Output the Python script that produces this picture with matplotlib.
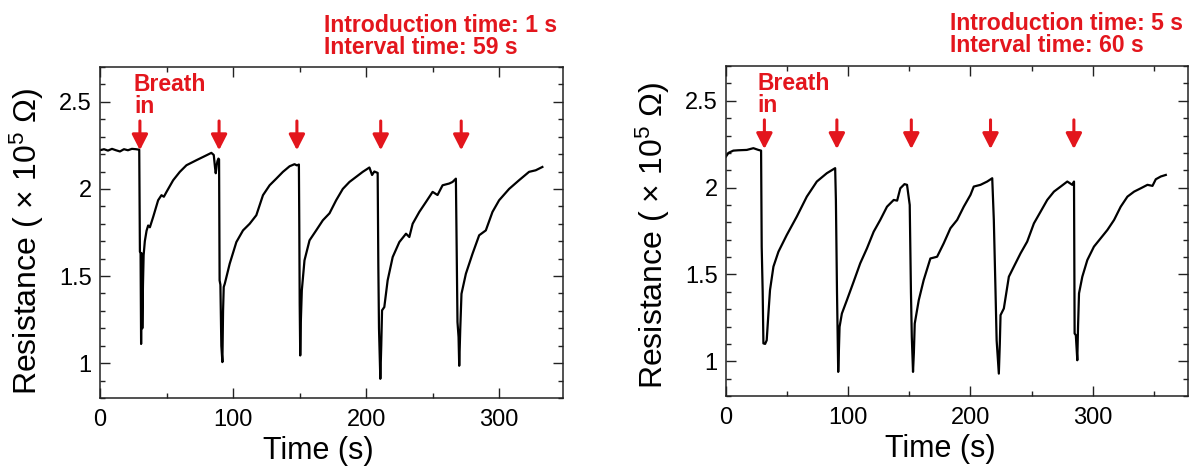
import matplotlib
matplotlib.use('Agg')
import matplotlib.pyplot as plt
from matplotlib.ticker import MultipleLocator, FuncFormatter

plt.rcParams['font.family'] = ['Liberation Sans', 'DejaVu Sans']
plt.rcParams['mathtext.default'] = 'regular'

# panel 1: introduction 1 s, interval 59 s
t1 = [0, 3, 6, 9, 12, 15, 18, 21, 24, 27, 29.5,
      30.0, 30.5, 30.9, 31.4, 31.8, 32.3, 32.8, 33.7, 35.0, 36.2, 37.5, 40,
      43.7, 46.2, 48, 50, 55, 60, 65, 72.5, 80, 83.7, 85.5, 86.5, 87, 87.8,
      88.3, 89, 89.5,
      89.9, 90.5, 91.2, 92, 92.5, 93, 93.8, 97.5, 102.5, 107.5, 112.5, 117.5,
      122.5, 127.5, 132.5, 137.5, 142.5, 146.2, 148, 149.5,
      149.8, 150.1, 150.5, 151.0, 151.7, 153.7, 157.5, 162.5, 167.5, 172.5,
      177.5, 182.5, 187.5, 192.5, 197.5, 202.5, 204.5, 206.2, 208.7,
      209.2, 209.7, 210.7, 211.4, 212, 213.7, 216.2, 220, 225, 230, 232.5,
      235, 240, 245, 250, 253.7, 257.5, 262.5, 265, 267.5,
      268.7, 269.5, 270, 270.8, 271.7, 275, 280, 285, 290, 295, 300, 307.5,
      315, 322.5, 327.5, 332.5]
r1 = [2.222, 2.228, 2.22, 2.23, 2.222, 2.215, 2.228, 2.222, 2.23, 2.228, 2.225,
      1.64, 1.63, 1.11, 1.63, 1.2, 1.45, 1.62, 1.70, 1.76, 1.79, 1.78, 1.84,
      1.935, 1.964, 1.955, 1.983, 2.05, 2.098, 2.136, 2.165, 2.193, 2.207, 2.195,
      2.12, 2.09, 2.14, 2.16, 2.174, 2.17,
      1.475, 1.45, 1.1, 1.006, 1.3, 1.437, 1.456, 1.571, 1.695, 1.762, 1.80,
      1.849, 1.964, 2.021, 2.059, 2.098, 2.13, 2.142, 2.135, 2.14,
      1.79, 1.34, 1.044, 1.25, 1.418, 1.59, 1.705, 1.762, 1.82, 1.86,
      1.935, 2.00, 2.04, 2.069, 2.098, 2.123, 2.08, 2.10, 2.092,
      1.561, 1.2, 0.91, 1.10, 1.303, 1.322, 1.475, 1.609, 1.695, 1.743, 1.724,
      1.80, 1.868, 1.925, 1.983, 1.965, 2.021, 2.031, 2.04, 2.059,
      1.236, 1.15, 0.985, 1.2, 1.398, 1.513, 1.628, 1.734, 1.762, 1.868, 1.935,
      2.00, 2.05, 2.098, 2.107, 2.126]

# panel 2: introduction 5 s, interval 60 s
t2 = [0, 2, 6, 10, 17, 22.4, 26.5, 28.7,
      29.2, 30.0, 30.6, 32.0, 33.3, 34.7, 36, 38.8, 42.9, 49.7, 57.9, 66.1,
      74.3, 82.5, 89.3,
      89.9, 90.8, 91.8, 92.3, 92.9, 94.8, 98.9, 104.4, 109.8, 115.3, 120.8,
      126.2, 131.7, 137.2, 140, 142.6, 146, 148.1,
      150.3, 151.3, 152.0, 153.0, 153.7, 154.4, 157.7, 161.7, 167.2, 172.7,
      178.1, 183.6, 189.1, 194.5, 200, 202.7, 208.2, 213.7, 217.8,
      219.1, 220.5, 221.4, 223.2, 224.0, 224.6, 227.3, 231.4, 235.5, 241,
      246.4, 251.9, 257.4, 262.8, 268.3, 273.8, 279.2, 283.3, 284.7,
      285.2, 286.2, 287.4, 288.0, 288.8, 291.5, 295.6, 301, 306.5, 312, 317.5,
      322.9, 328.4, 333.9, 339.3, 344.8, 348.9, 351.6, 355.7, 359.8]
r2 = [2.179, 2.20, 2.213, 2.215, 2.217, 2.227, 2.217, 2.213,
      1.66, 1.40, 1.103, 1.10, 1.121, 1.275, 1.41, 1.545, 1.631, 1.727, 1.833,
      1.948, 2.035, 2.083, 2.112,
      1.93, 1.40, 0.939, 1.05, 1.198, 1.275, 1.352, 1.458, 1.564, 1.65, 1.746,
      1.814, 1.89, 1.929, 1.925, 1.996, 2.02, 2.016,
      1.90, 1.40, 1.14, 0.939, 1.05, 1.217, 1.352, 1.467, 1.592, 1.602,
      1.679, 1.766, 1.814, 1.89, 1.958, 2.006, 2.016, 2.035, 2.054,
      1.814, 1.40, 1.121, 0.929, 1.10, 1.266, 1.304, 1.487, 1.545, 1.622,
      1.689, 1.794, 1.862, 1.929, 1.977, 2.006, 2.035, 2.016, 2.035,
      1.16, 1.15, 1.006, 1.20, 1.391, 1.487, 1.583, 1.66, 1.708, 1.756, 1.814,
      1.89, 1.948, 1.977, 1.996, 2.016, 2.01, 2.048, 2.064, 2.073]

arrows1 = [30, 89.5, 148, 211, 271.5]
arrows2 = [31.4, 90.7, 151.6, 216.4, 284.6]
notes1 = ['Introduction time: 1 s', 'Interval time: 59 s']
notes2 = ['Introduction time: 5 s', 'Interval time: 60 s']
xmax1 = 348
xmax2 = 378

red = '#e3161d'

fig = plt.figure(figsize=(11.89, 4.68), dpi=100)
ax1 = fig.add_axes([0.0841, 0.1496, 0.3894, 0.7073])
ax2 = fig.add_axes([0.6106, 0.1538, 0.3886, 0.7051])


def setup(ax, t, r, xmax, arrows, notes, xl, yl, nx, ny):
    ax.plot(t, r, color='black', lw=1.6)
    ax.set_xlim(0, xmax)
    ax.set_ylim(0.8, 2.7)
    ax.xaxis.set_major_locator(MultipleLocator(100))
    ax.xaxis.set_minor_locator(MultipleLocator(50))
    ax.yaxis.set_major_locator(MultipleLocator(0.5))
    ax.yaxis.set_minor_locator(MultipleLocator(0.1))
    ax.yaxis.set_major_formatter(FuncFormatter(lambda v, p: '%g' % v))
    ax.tick_params(which='both', direction='in', top=True, right=True,
                   color='#222222', labelsize=17)
    ax.tick_params(which='major', length=7, width=1.0)
    ax.tick_params(which='minor', length=3.6, width=1.0)
    ax.tick_params(axis='x', pad=8)
    ax.tick_params(axis='y', pad=6)
    for s in ax.spines.values():
        s.set_color('#222222')
        s.set_linewidth(1.1)
    ax.set_xlabel('Time (s)', fontsize=22)
    ax.xaxis.set_label_coords(xl, -0.115)
    ax.set_ylabel('Resistance ( × 10$^5$ Ω)', fontsize=23)
    ax.yaxis.set_label_coords(-0.117, yl)
    for x in arrows:
        ax.annotate('', xy=(x, 2.222), xytext=(x, 2.39),
                    arrowprops=dict(arrowstyle='-|>,head_length=0.47,head_width=0.24',
                                    color=red, lw=2.2, mutation_scale=20,
                                    shrinkA=0, shrinkB=0))
    ax.text(25.5, 2.56, 'Breath', color=red, fontsize=16.5,
            fontweight='bold', ha='left', va='baseline')
    ax.text(25.5, 2.435, 'in', color=red, fontsize=16.5,
            fontweight='bold', ha='left', va='baseline')
    ax.text(nx, ny, notes[0], transform=ax.transAxes, color=red,
            fontsize=16.6, fontweight='bold', ha='left', va='baseline')
    ax.text(nx, ny - 0.067, notes[1], transform=ax.transAxes, color=red,
            fontsize=16.6, fontweight='bold', ha='left', va='baseline')


setup(ax1, t1, r1, xmax1, arrows1, notes1, 0.471, 0.473, 0.483, 1.106)
setup(ax2, t2, r2, xmax2, arrows2, notes2, 0.464, 0.488, 0.485, 1.109)

fig.savefig('out.png', dpi=100)
